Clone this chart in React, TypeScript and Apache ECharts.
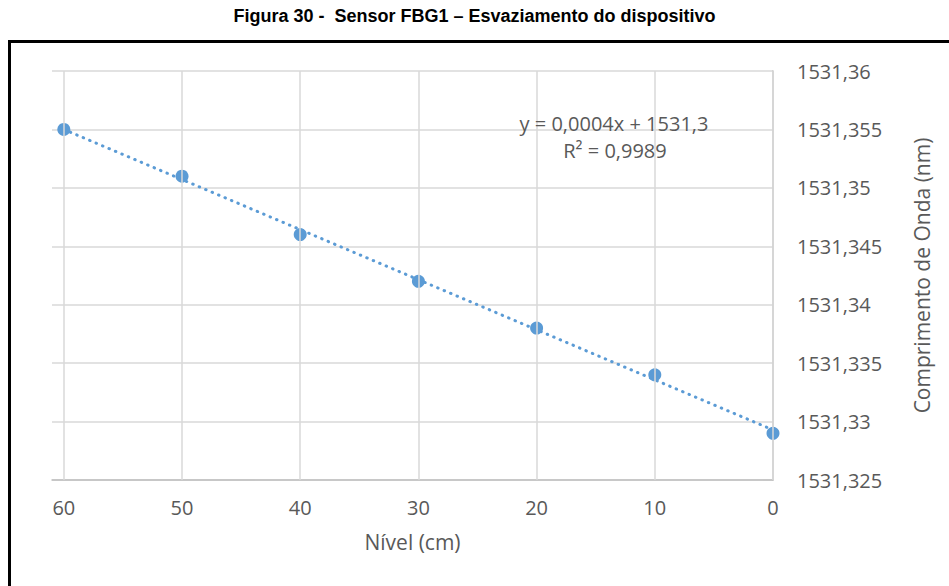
import React, { useEffect, useRef } from "react";
import * as echarts from "echarts";

// Nível (cm) and measured wavelength (nm) for the FBG1 sensor while draining
const levels = [60, 50, 40, 30, 20, 10, 0];
const wavelengths = [1531.355, 1531.351, 1531.346, 1531.342, 1531.338, 1531.334, 1531.329];
const xTicks = [60, 50, 40, 30, 20, 10, 0];

const titleText = "Figura 30 -  Sensor FBG1 – Esvaziamento do dispositivo";
const xName = "Nível (cm)";
const yName = "Comprimento de Onda (nm)";
const equationText = "y = 0,0004x + 1531,3";
const r2Text = "R² = 0,9989";

const labelFont = "'Open Sans', 'DejaVu Sans', sans-serif";
const gray = "#595959";
const blue = "#5B9BD5";

// least-squares linear trend through the measured points
function linearFit(xs: number[], ys: number[]) {
  const n = xs.length;
  const mx = xs.reduce((a, b) => a + b, 0) / n;
  const my = ys.reduce((a, b) => a + b, 0) / n;
  let sxy = 0;
  let sxx = 0;
  for (let i = 0; i < n; i++) {
    sxy += (xs[i] - mx) * (ys[i] - my);
    sxx += (xs[i] - mx) * (xs[i] - mx);
  }
  const slope = sxy / sxx;
  return { slope, intercept: my - slope * mx };
}

export default function App() {
  const ref = useRef<HTMLDivElement>(null);

  useEffect(() => {
    if (!ref.current) return;
    const chart = echarts.init(ref.current, undefined, { renderer: "svg" });
    const fit = linearFit(levels, wavelengths);
    const xMin = Math.min(...levels);
    const xMax = Math.max(...levels);
    const trend = [
      [xMax, fit.intercept + fit.slope * xMax],
      [xMin, fit.intercept + fit.slope * xMin],
    ];

    chart.setOption({
      animation: false,
      backgroundColor: "#ffffff",
      title: {
        text: titleText,
        left: "center",
        top: 2,
        textStyle: {
          fontFamily: "'Liberation Sans', Arial, sans-serif",
          fontWeight: "bold",
          fontSize: 18,
          color: "#000000",
        },
      },
      graphic: [
        {
          type: "rect",
          shape: { x: 9.5, y: 41.5, width: 1000, height: 600 },
          style: { fill: "none", stroke: "#000000", lineWidth: 3 },
          silent: true,
          z: 10,
        },
        {
          type: "text",
          x: 614,
          y: 123,
          style: {
            text: equationText,
            font: `20px ${labelFont}`,
            fill: gray,
            textAlign: "center",
            textVerticalAlign: "middle",
          },
          z: 10,
        },
        {
          type: "text",
          x: 615,
          y: 150,
          style: {
            text: r2Text,
            font: `20px ${labelFont}`,
            fill: gray,
            textAlign: "center",
            textVerticalAlign: "middle",
          },
          z: 10,
        },
      ],
      grid: { left: 52, right: 176, top: 71, bottom: 106 },
      xAxis: {
        type: "value",
        inverse: true,
        min: 0,
        max: 61,
        interval: 10,
        name: xName,
        nameLocation: "middle",
        nameGap: 51,
        nameTextStyle: { fontFamily: labelFont, fontSize: 21, color: gray },
        axisLine: { show: true, lineStyle: { color: "#BFBFBF", width: 1.5 } },
        axisTick: { show: false },
        splitLine: { show: false },
        axisLabel: {
          fontFamily: labelFont,
          fontSize: 20,
          color: gray,
          margin: 17,
          formatter: (v: number) => (v % 10 === 0 ? String(v) : ""),
        },
      },
      yAxis: {
        type: "value",
        position: "right",
        min: 1531.325,
        max: 1531.36,
        interval: 0.005,
        name: yName,
        nameLocation: "middle",
        nameRotate: 90,
        nameGap: 138,
        nameTextStyle: { fontFamily: labelFont, fontSize: 21, color: gray },
        axisLine: { show: true, lineStyle: { color: "#BFBFBF", width: 1.5 } },
        axisTick: { show: false },
        splitLine: { show: true, lineStyle: { color: "#D9D9D9", width: 1.5 } },
        axisLabel: {
          fontFamily: labelFont,
          fontSize: 20,
          color: gray,
          margin: 24,
          formatter: (v: number) => String(+v.toFixed(3)).replace(".", ","),
        },
      },
      series: [
        {
          // vertical gridlines at the labelled levels
          type: "line",
          data: [],
          silent: true,
          z: 1,
          markLine: {
            silent: true,
            symbol: ["none", "none"],
            label: { show: false },
            lineStyle: { type: "solid", color: "#D9D9D9", width: 1.5 },
            data: xTicks.map((v) => ({ xAxis: v })),
          },
        },
        {
          type: "line",
          data: trend,
          showSymbol: false,
          silent: true,
          z: 2,
          lineStyle: { color: blue, width: 3, type: [0.5, 6.5], cap: "round" },
        },
        {
          type: "scatter",
          data: levels.map((x, i) => [x, wavelengths[i]]),
          symbol: "circle",
          symbolSize: 13,
          itemStyle: { color: blue, opacity: 1 },
          z: 3,
        },
      ],
    });

    return () => chart.dispose();
  }, []);

  return (
    <div
      ref={ref}
      style={{ position: "fixed", left: 0, top: 0, width: 949, height: 586 }}
    />
  );
}
